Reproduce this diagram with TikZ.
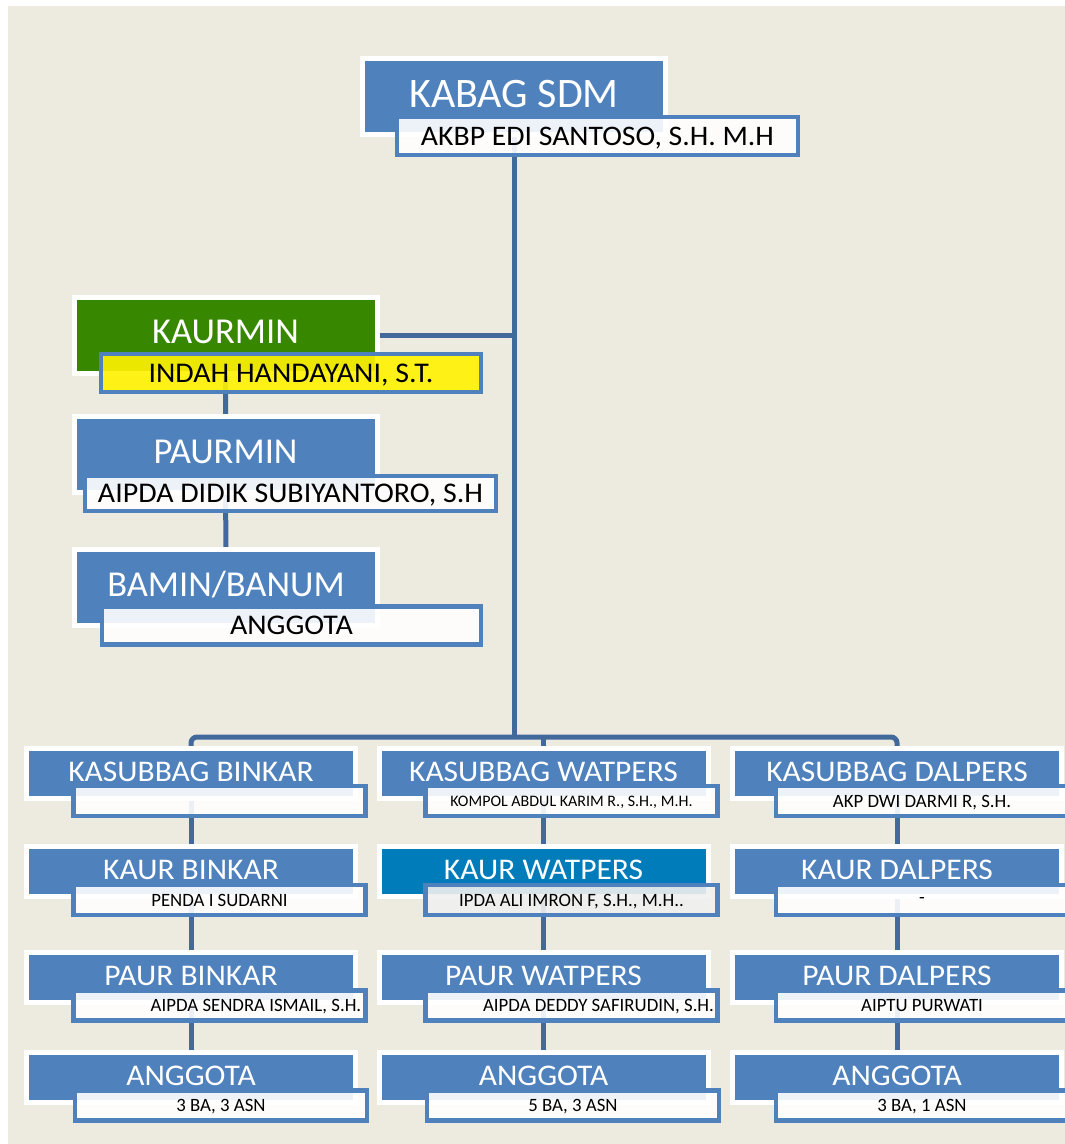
\documentclass[tikz,border=0pt]{standalone}
\usepackage{fontspec}
\setmainfont{Carlito}
\newfontfamily\widefont[FakeStretch=1.05]{Carlito}
\pgfdeclarelayer{backdrop}
\pgfdeclarelayer{wires}
\pgfsetlayers{backdrop,wires,main}
\definecolor{paper}{RGB}{237,234,224}
\definecolor{boxblue}{RGB}{79,129,189}
\definecolor{wireblue}{RGB}{65,105,155}
\definecolor{leafgreen}{RGB}{56,135,0}
\definecolor{tealblue}{RGB}{0,124,186}
\definecolor{softgray}{RGB}{240,240,240}
\begin{document}
\begin{tikzpicture}[x=1pt,y=-1pt,
  headbox/.style={rectangle, draw=white, line width=5pt, fill=boxblue, text=white,
    inner sep=0pt, text depth=6pt},
  bighead/.style={headbox, minimum width=303pt, minimum height=76pt,
    font=\fontsize{42}{42}\selectfont},
  sidehead/.style={headbox, minimum width=303pt, minimum height=76pt,
    font=\fontsize{36.5}{36.5}\selectfont},
  rowhead/.style={headbox, minimum width=329pt, minimum height=50pt,
    font=\widefont\fontsize{30}{30}\selectfont, text depth=4pt},
  namebox/.style={rectangle, draw=boxblue, line width=4.5pt, fill=white,
    fill opacity=0.9, text opacity=1, text=black, inner sep=0pt, text depth=0pt},
  bigname/.style={namebox, minimum width=401pt, minimum height=38pt,
    font=\widefont\fontsize{28.3}{28.3}\selectfont},
  sidename/.style={namebox, minimum width=380pt, minimum height=38pt,
    font=\widefont\fontsize{28.5}{28.5}\selectfont},
  rowname/.style={namebox, minimum width=292pt, minimum height=30pt,
    font=\fontsize{18.8}{18.8}\selectfont},
  nametext/.style={text=black, inner sep=0pt, text depth=0pt,
    font=\fontsize{18.8}{18.8}\selectfont},
  wire/.style={draw=wireblue, line width=5pt},
]
\clip (0,0) rectangle (1065,1144);

% page backdrop
\begin{pgfonlayer}{backdrop}
  \fill[white] (0,0) rectangle (1065,1144);
  \fill[paper] (8,6) rectangle (1065,1144);
\end{pgfonlayer}

% head of department
\node[bighead] (kabag) at (514,96.5) {KABAG SDM};
\node[bigname] (kabagname) at (597.5,136) {AKBP EDI SANTOSO, S.H. M.H};

% administration stack on the left
\node[sidehead, fill=leafgreen] (kaurmin) at (225.5,335) {KAURMIN};
\node[sidename, fill=yellow] (kaurminname) at (291,373) {INDAH HANDAYANI, S.T.};

\node[sidehead] (paurmin) at (225.5,454.5) {PAURMIN};
\node[sidename, minimum width=411pt, minimum height=35pt] (paurminname) at (290.5,493.5)
  {AIPDA DIDIK SUBIYANTORO, S.H};

\node[sidehead] (bamin) at (226,587) {BAMIN/BANUM};
\node[sidename, minimum width=379pt] (bamincap) at (291.5,625.5) {ANGGOTA};

% column 1: BINKAR
\node[rowhead] (binkar) at (191,773.5) {KASUBBAG BINKAR};
\node[rowname] (binkarname) at (219.5,801) {};
\node[rowhead] (kaurbinkar) at (191,871.5) {KAUR BINKAR};
\node[rowname] (kaurbinkarname) at (219.5,900) {PENDA I SUDARNI};
\node[rowhead] (paurbinkar) at (191,977.5) {PAUR BINKAR};
\node[rowname] (paurbinkarname) at (219.5,1005.5) {};
\node[nametext] (paurbinkartext) at (256,1005.5) {AIPDA SENDRA ISMAIL, S.H.};
\node[rowhead] (staffbinkar) at (191,1077.5) {ANGGOTA};
\node[rowname] (staffbinkarname) at (221,1105.5) {3 BA, 3 ASN};

% column 2: WATPERS
\node[rowhead] (watpers) at (543.5,773.5) {KASUBBAG WATPERS};
\node[rowname, font=\fontsize{16}{16}\selectfont] (watpersname) at (571.5,801)
  {KOMPOL ABDUL KARIM R., S.H., M.H.};
\node[rowhead, fill=tealblue] (kaurwatpers) at (543.5,871.5) {KAUR WATPERS};
\node[rowname, fill=softgray] (kaurwatpersname) at (571.5,900) {IPDA ALI IMRON F, S.H., M.H..};
\node[rowhead] (paurwatpers) at (543.5,977.5) {PAUR WATPERS};
\node[rowname] (paurwatpersname) at (571.5,1005.5) {};
\node[nametext] (paurwatperstext) at (598.5,1005.5) {AIPDA DEDDY SAFIRUDIN, S.H.};
\node[rowhead] (staffwatpers) at (543.5,1077.5) {ANGGOTA};
\node[rowname] (staffwatpersname) at (573,1105.5) {5 BA, 3 ASN};

% column 3: DALPERS
\node[rowhead] (dalpers) at (897,773.5) {KASUBBAG DALPERS};
\node[rowname] (dalpersname) at (922,801) {AKP DWI DARMI R, S.H.};
\node[rowhead] (kaurdalpers) at (897,871.5) {KAUR DALPERS};
\node[rowname] (kaurdalpersname) at (922,900) {-};
\node[rowhead] (paurdalpers) at (897,977.5) {PAUR DALPERS};
\node[rowname] (paurdalpersname) at (922,1005.5) {AIPTU PURWATI};
\node[rowhead] (staffdalpers) at (897,1077.5) {ANGGOTA};
\node[rowname] (staffdalpersname) at (922,1105.5) {3 BA, 1 ASN};

% connectors, kept behind the boxes
\begin{pgfonlayer}{wires}
  \coordinate (bus) at (514,737);
  \draw[wire] (kabag.center) -- (kabag.center |- bus);
  \draw[wire] (kaurmin.center) -- (kaurmin.center -| kabag.center);
  \draw[wire] (kaurmin.center) -- (paurmin.center) -- (bamin.center);
  \draw[wire, rounded corners=6pt] (binkar.center) |- (bus) -| (dalpers.center);
  \draw[wire] (watpers.center) -- (watpers.center |- bus);
  \draw[wire] (binkar.center) -- (kaurbinkar.center) -- (paurbinkar.center) -- (staffbinkar.center);
  \draw[wire] (watpers.center) -- (kaurwatpers.center) -- (paurwatpers.center) -- (staffwatpers.center);
  \draw[wire] (dalpers.center) -- (kaurdalpers.center) -- (paurdalpers.center) -- (staffdalpers.center);
\end{pgfonlayer}
\end{tikzpicture}
\end{document}
